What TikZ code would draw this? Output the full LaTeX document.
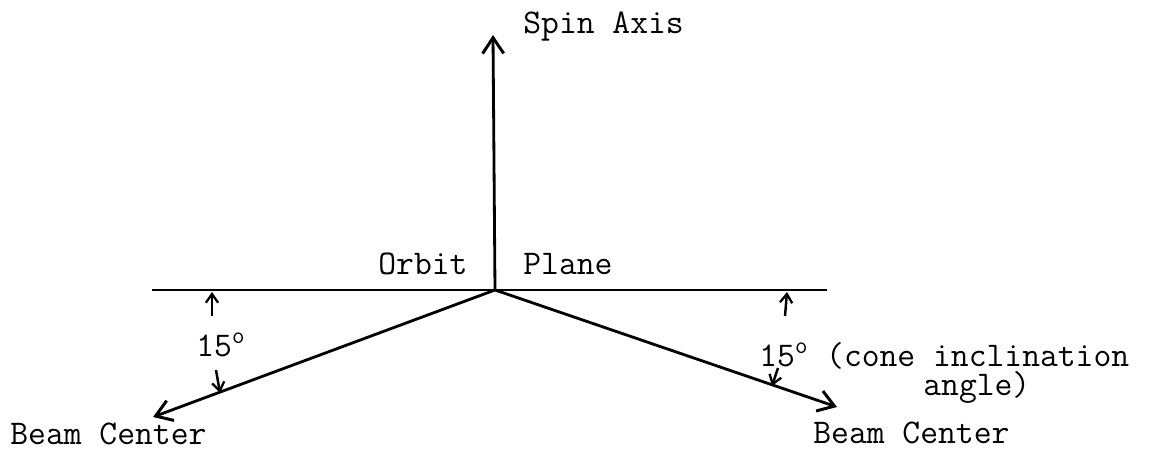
\documentclass[tikz,border=0pt]{standalone}
\usepackage{fontspec}
\usetikzlibrary{arrows.meta}
\begin{document}
\begin{tikzpicture}[x=0.02cm,y=-0.02cm,
  lbl/.style={font=\ttfamily\fontsize{19.7}{22}\selectfont, inner sep=0pt, anchor=base west},
  ln/.style={line width=1.6pt},
  arr/.style={ln,-{Straight Barb[length=9pt,width=12pt,line width=1.7pt]}},
  small/.style={line width=1.4pt,-{Straight Barb[length=5pt,width=7pt,line width=1.3pt]}}]
\useasboundingbox (0,0) rectangle (1157,449);
% key points
\coordinate (O) at (495,290);
\coordinate (spin) at (493,35);
\coordinate (hl) at (152,290);
\coordinate (hr) at (827,290);
\coordinate (bl) at (153,417);
\coordinate (br) at (837,407);
\coordinate (lu1) at (212,316);
\coordinate (lu2) at (212,292);
\coordinate (ld1) at (216,370);
\coordinate (ld2) at (220,393);
\coordinate (ru1) at (785,316);
\coordinate (ru2) at (787,292);
\coordinate (rd1) at (778,368);
\coordinate (rd2) at (772,386);
% lines
\draw[ln] (hl) -- (hr);
\draw[arr] (O) -- (spin);
\draw[arr] (O) -- (bl);
\draw[arr] (O) -- (br);
\draw[small] (lu1) -- (lu2);
\draw[small] (ld1) -- (ld2);
\draw[small] (ru1) -- (ru2);
\draw[small] (rd1) -- (rd2);
% labels
\node[lbl] (tspin) at (523,34) {Spin Axis};
\node[lbl] (torbit) at (378,275) {Orbit};
\node[lbl] (tplane) at (523,275) {Plane};
\node[lbl] (tl15) at (196,357) {15\textsuperscript{o}};
\node[lbl] (tr15) at (759,367) {15\textsuperscript{o} (cone inclination};
\node[lbl] (tangle) at (923,396) {angle)};
\node[lbl] (tbl) at (10,444) {Beam Center};
\node[lbl] (tbr) at (813,443) {Beam Center};
\end{tikzpicture}
\end{document}
